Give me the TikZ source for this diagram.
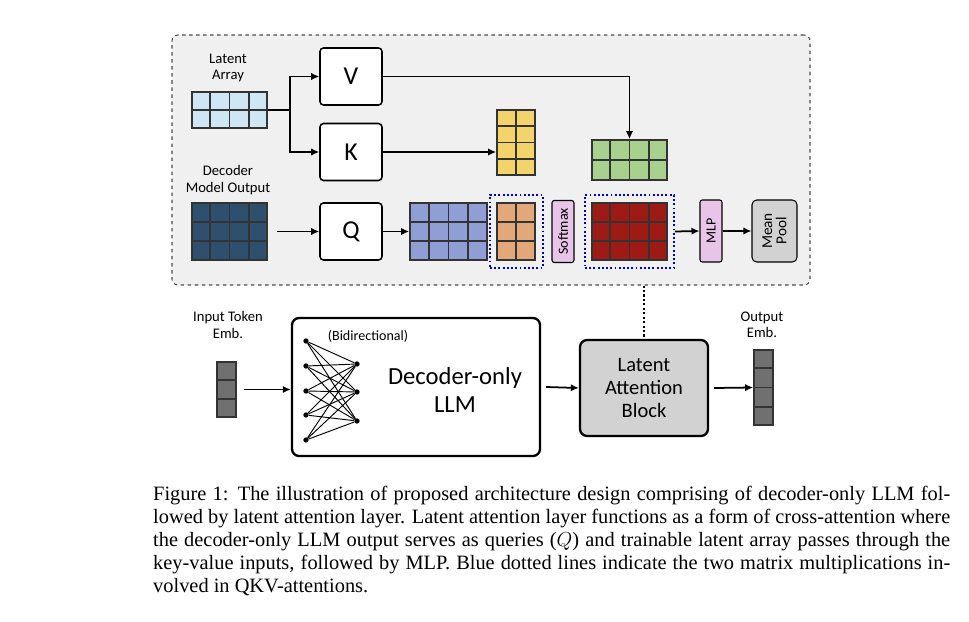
\documentclass[tikz,border=0pt]{standalone}
\usepackage{fontspec}
\setmainfont{Liberation Serif}
\newfontfamily\diagfont{Carlito}
\usetikzlibrary{calc,arrows.meta}

\definecolor{latentblue}{HTML}{CFE6F5}
\definecolor{decblue}{HTML}{2F4F6F}
\definecolor{keyyellow}{HTML}{F2D46B}
\definecolor{valgreen}{HTML}{A9D18E}
\definecolor{qpurple}{HTML}{8F9FD6}
\definecolor{scoreorange}{HTML}{E3A87A}
\definecolor{outred}{HTML}{9E1B15}
\definecolor{softpink}{HTML}{E8C4E8}
\definecolor{tokgray}{HTML}{707070}

\tikzset{
  flow/.style={-{Latex[length=2.4mm,width=2.2mm]},line width=1.5pt},
  proj/.style={draw,rounded corners=3pt,line width=1.3pt,fill=white,minimum width=62*0.3mm,minimum height=57*0.3mm,font=\diagfont\fontsize{22}{24}\selectfont},
  slim/.style={draw,rounded corners=2pt,line width=0.9pt,minimum width=22*0.3mm,minimum height=62*0.3mm,font=\diagfont\fontsize{12}{13}\selectfont},
  gridbox/.style={draw=black!80,line width=1.5pt,inner sep=0pt},
  mult/.style={draw=blue!70!black,dotted,line width=1.6pt,inner sep=0pt},
  lbl/.style={font=\diagfont\fontsize{12.5}{14}\selectfont,align=center},
  unit/.style={circle,fill=black,inner sep=0pt,minimum size=4.5pt}
}

% name, centre, cols, rows, width px, height px, colour
\newcommand\cellgrid[7]{%
  \node[gridbox,fill=#7,minimum width=#5*0.3mm,minimum height=#6*0.3mm] (#1) at #2 {};
  \foreach \c in {1,...,#3}{\ifnum\c<#3
    \draw[black!80,line width=1.5pt] ($(#1.north west)!\c/#3!(#1.north east)$) -- ($(#1.south west)!\c/#3!(#1.south east)$);\fi}
  \foreach \r in {1,...,#4}{\ifnum\r<#4
    \draw[black!80,line width=1.5pt] ($(#1.north west)!\r/#4!(#1.south west)$) -- ($(#1.north east)!\r/#4!(#1.south east)$);\fi}
}

\begin{document}
\begin{tikzpicture}[x=0.3mm,y=-0.3mm]
\useasboundingbox (0,0) rectangle (969,622);

% latent attention block, opened up
\node[draw=black!70,dashed,rounded corners=5pt,fill=gray!12,line width=0.9pt,minimum width=638*0.3mm,minimum height=250*0.3mm] (LAB-open) at (491,160) {};

\node[lbl] (latentlbl) at (228,68) {Latent\\Array};
\cellgrid{latent}{(229.5,110)}{4}{2}{75}{36}{latentblue}
\node[lbl] (declbl) at (228,180) {Decoder\\Model Output};
\cellgrid{decout}{(229.5,231.5)}{4}{3}{75}{57}{decblue}

\node[proj] (V) at (351,76.5) {V};
\node[proj] (K) at (351,152) {K};
\node[proj] (Q) at (351,231.5) {Q};

\cellgrid{keys}{(516,142.5)}{2}{4}{38}{65}{keyyellow}
\cellgrid{values}{(629.5,160)}{4}{2}{75}{40}{valgreen}
\cellgrid{queries}{(448.5,231.5)}{4}{3}{77}{57}{qpurple}
\cellgrid{scores}{(516,231.5)}{2}{3}{38}{57}{scoreorange}
\node[slim,fill=softpink] (softmax) at (563,231.5) {\rotatebox{90}{Softmax}};
\cellgrid{attout}{(629.5,231.5)}{4}{3}{75}{57}{outred}
\node[mult,minimum width=53*0.3mm,minimum height=73*0.3mm] (mult1) at (516.5,231.5) {};
\node[mult,minimum width=89*0.3mm,minimum height=73*0.3mm] (mult2) at (629.5,231.5) {};
\node[slim,fill=softpink] (mlp) at (711,231) {\rotatebox{90}{MLP}};
\node[slim,fill=gray!35,rounded corners=4pt,minimum width=45*0.3mm,font=\diagfont\fontsize{13}{13}\selectfont,align=center] (pool) at (774.5,231) {\rotatebox{90}{\shortstack{Mean\\Pool}}};

\coordinate (split) at (290,110);
\draw[line width=1.5pt] (latent.east) -- (split);
\draw[flow] (split) |- (V.west);
\draw[flow] (split) |- (K.west);
\draw[flow] (K.east) -- (K.east -| keys.west);
\draw[flow] (V.east) -| (values.north);
\draw[flow] (decout.east) ++(9,0) -- (Q.west);
\draw[flow] (Q.east) -- (queries.west);
\draw[flow] (mult2.east) -- (mlp.west);
\draw[flow] (mlp.east) -- (pool.west);

% bottom pipeline
\node[lbl] (inlbl) at (228,325) {Input Token\\Emb.};
\cellgrid{intok}{(226.5,389.5)}{1}{3}{19}{55}{tokgray}
\node[draw,rounded corners=6pt,line width=2pt,minimum width=248*0.3mm,minimum height=138*0.3mm] (llm) at (416,387) {};
\node[font=\diagfont\fontsize{12}{13}\selectfont] (bidir) at (368,336) {(Bidirectional)};
\node[font=\diagfont\fontsize{21}{24}\selectfont,align=center] (llmtext) at (455,390) {Decoder-only\\LLM};
\foreach \i/\y in {1/341,2/366,3/391,4/415,5/440}
  \node[unit] (in\i) at (306,\y) {};
\foreach \j/\y in {1/364,2/392,3/421}
  \node[unit] (hid\j) at (357,\y) {};
\foreach \i in {1,...,5}
  \foreach \j in {1,2,3}
    \draw[line width=0.8pt] (in\i) -- (hid\j);
\node[draw,rounded corners=6pt,line width=2pt,fill=gray!35,minimum width=128*0.3mm,minimum height=96*0.3mm,font=\diagfont\fontsize{17.5}{20}\selectfont,align=center] (lab) at (644,388) {Latent\\Attention\\Block};
\node[lbl] (outlbl) at (762,325) {Output\\Emb.};
\cellgrid{outemb}{(763.5,387.5)}{1}{4}{19}{75}{tokgray}

\draw[flow] (intok.east) ++(7,0) -- (intok.east -| llm.west);
\draw[flow] (llm.east) ++(5,0) -- (lab.west);
\draw[flow] (lab.east) ++(5,0) -- (outemb.west);
\draw[dotted,line width=1.8pt] (LAB-open.south -| lab.north) -- (lab.north);

\node[anchor=north west,text width=797*0.3mm,align=justify,inner sep=0pt,font=\fontsize{17.4}{19.6}\selectfont] (caption) at (153,486)
{Figure 1: The illustration of proposed architecture design comprising of decoder-only LLM followed by latent attention layer. Latent attention layer functions as a form of cross-attention where the decoder-only LLM output serves as queries ($Q$) and trainable latent array passes through the key-value inputs, followed by MLP. Blue dotted lines indicate the two matrix multiplications involved in QKV-attentions.};
\end{tikzpicture}
\end{document}
